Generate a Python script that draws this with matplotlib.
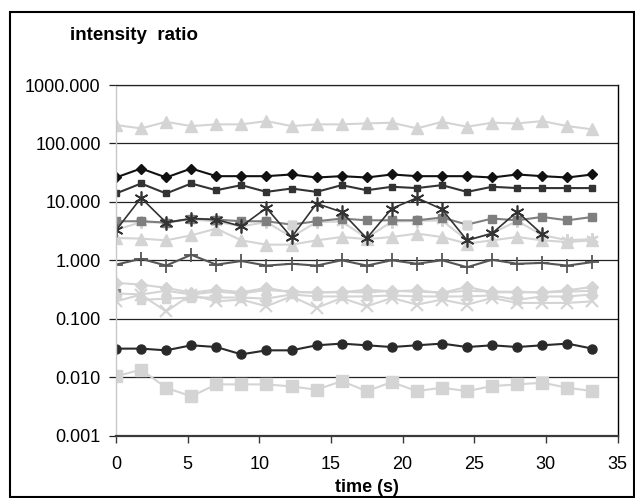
import numpy as np
import matplotlib
matplotlib.use('Agg')
import matplotlib.pyplot as plt
from matplotlib.ticker import FixedLocator, FuncFormatter
from matplotlib.patches import Rectangle

plt.rcParams['font.family'] = ['Liberation Sans', 'DejaVu Sans']

# sample times (s)
time_s = [0, 1.75, 3.5, 5.25, 7, 8.75, 10.5, 12.25, 14, 15.75,
          17.5, 19.25, 21, 22.75, 24.5, 26.25, 28, 29.75, 31.5, 33.25]

# intensity ratios per channel
tri_top = [206, 181, 234, 198, 212, 212, 241, 198, 212, 212,
           220, 226, 181, 234, 193, 226, 220, 241, 198, 174]
diamond_black = [26.1, 37.2, 26.1, 37.2, 27.5, 27.5, 27.5, 29.4, 26.1, 27.5,
                 26.1, 29.4, 27.5, 27.5, 27.5, 26.1, 29.4, 27.5, 26.1, 29.4]
square_dark = [13.9, 20.6, 13.9, 20.6, 15.8, 19.3, 14.8, 16.9, 14.8, 19.3,
               15.8, 18.1, 17.2, 19.3, 14.8, 18.1, 17.2, 17.2, 17.2, 17.2]
star_dark = [3.26, 11.7, 4.42, 5.17, 4.97, 3.81, 7.85, 2.47, 9.35, 6.71,
             2.38, 7.67, 11.7, 7.46, 2.19, 2.89, 6.76, 2.78, np.nan, np.nan]
square_mid = [4.65, 4.65, 4.42, 5.17, 4.97, 4.65, 4.65, 4.08, 4.65, 5.17,
              4.83, 4.83, 4.83, 5.38, 4.08, 5.17, 4.83, 5.51, 4.83, 5.51]
square_mid_pale = [7, 14]   # points shown with a pale marker
star_light = [3.3, 4.5, 4.4, 5.0, 4.6, 3.8, 4.5, 2.5, 4.5, 4.6,
              2.4, 4.6, 4.7, 4.8, 2.2, 2.9, 4.7, 2.7, 2.2, 2.3]
tri_mid = [2.40, 2.35, 2.19, 2.67, 3.48, 2.19, 1.85, 1.85, 2.19, 2.50,
           2.30, 2.50, 2.86, 2.50, 1.93, 2.19, 2.50, 2.19, 2.05, 2.19]
plus_dark = [0.84, 1.06, 0.81, 1.24, 0.84, 0.97, 0.81, 0.87, 0.81, 1.0,
             0.81, 1.0, 0.87, 1.0, 0.76, 1.02, 0.87, 0.90, 0.81, 0.93]
diamond_light = [0.41, 0.383, 0.336, 0.279, 0.314, 0.283, 0.336, 0.283, 0.283, 0.283,
                 0.314, 0.294, 0.306, 0.276, 0.35, 0.283, 0.283, 0.283, 0.306, 0.35]
tri_low = [0.27, 0.26, 0.30, 0.26, 0.29, 0.27, 0.31, 0.29, 0.28, 0.29,
           0.28, 0.30, 0.29, 0.28, 0.30, 0.29, 0.29, 0.28, 0.29, 0.30]
square_light = [0.28, 0.21, 0.22, 0.23, 0.23, 0.23, 0.22, 0.26, 0.24, 0.24,
                0.24, 0.25, 0.24, 0.24, 0.24, 0.25, 0.21, 0.24, 0.24, 0.26]
x_light = [0.198, 0.258, 0.133, 0.258, 0.198, 0.212, 0.163, 0.241, 0.153, 0.226,
           0.163, 0.226, 0.174, 0.212, 0.174, 0.226, 0.186, 0.186, 0.186, 0.198]
circle_black = [0.0307, 0.0307, 0.0287, 0.035, 0.0327, 0.0245, 0.0287, 0.0287, 0.035, 0.0374,
                0.035, 0.0327, 0.035, 0.0374, 0.0327, 0.035, 0.0327, 0.035, 0.0374, 0.0307]
square_bottom = [0.0103, 0.0134, 0.00658, 0.00467, 0.0075, 0.0075, 0.0075, 0.00692, 0.00608, 0.00853,
                 0.00575, 0.0082, 0.00575, 0.00658, 0.00575, 0.00701, 0.0075, 0.0080, 0.00658, 0.00575]

light = '#d4d4d4'
mid = '#7f7f7f'

fig = plt.figure(figsize=(6.35, 4.98), dpi=100)
ax = fig.add_axes([116 / 635, 1 - 435.5 / 498, 501.5 / 635, 350.5 / 498])

ax.plot(time_s, tri_top, color=light, marker='^', ms=8, lw=1.5)
ax.plot(time_s, diamond_light, color=light, marker='D', ms=6, lw=1.5)
ax.plot(time_s, tri_low, color=light, marker='^', ms=7, lw=1.5)
ax.plot(time_s[1:], square_light[1:], color=light, marker='s', ms=6, lw=1.5)
ax.plot(time_s[0], square_light[0], color=mid, marker='s', ms=6, ls='none', zorder=1.9)
ax.plot(time_s, x_light, color=light, marker='x', ms=8, mew=1.5, lw=1.5)
ax.plot(time_s, square_bottom, color=light, marker='s', ms=8, lw=1.5)
ax.plot(time_s, tri_mid, color=light, marker='^', ms=8.5, lw=1.5)
ax.plot(time_s, star_light, color=light, marker=(6, 2, 0), ms=9, mew=1.5, lw=1.5)
ax.plot(time_s, square_mid, color=mid, marker='s', ms=6, lw=1.5)
ax.plot([time_s[i] for i in square_mid_pale], [square_mid[i] for i in square_mid_pale],
        color=light, marker='s', ms=6, ls='none')
ax.plot(time_s, star_dark, color='#333333', marker=(6, 2, 0), ms=10, mew=1.2, lw=1.2)
ax.plot(time_s, square_dark, color='#333333', marker='s', ms=4.5, lw=1.5)
ax.plot(time_s, diamond_black, color='#111111', marker='D', ms=5, lw=1.5)
ax.plot(time_s, plus_dark, color='#555555', marker='+', ms=10, mew=1.3, lw=1.5)
ax.plot(time_s, circle_black, color='#2a2a2a', marker='o', ms=6.5, lw=1.5)

ax.set_yscale('log')
ax.set_ylim(0.001, 1000)
ax.set_xlim(0, 35)
ax.yaxis.set_major_locator(FixedLocator([0.001, 0.01, 0.1, 1, 10, 100, 1000]))
ax.yaxis.set_minor_locator(FixedLocator([]))
ax.yaxis.set_major_formatter(FuncFormatter(lambda v, p: '%.3f' % v))
ax.set_xticks(range(0, 36, 5))
ax.grid(axis='y', color='#222222', lw=0.9)
ax.set_axisbelow(True)

ax.spines['top'].set_color('#222222')
ax.spines['top'].set_linewidth(0.9)
ax.spines['right'].set_color('black')
ax.spines['right'].set_linewidth(1.0)
ax.spines['left'].set_color('#c8c8c8')
ax.spines['left'].set_linewidth(1.0)
ax.spines['bottom'].set_color('#3a3a3a')
ax.spines['bottom'].set_linewidth(1.6)
ax.tick_params(axis='y', direction='out', length=5, width=0.9, color='#222222',
               labelsize=13, pad=6)
ax.tick_params(axis='x', direction='out', length=5, width=1.0, color='#3a3a3a',
               labelsize=13, pad=10)

ax.set_xlabel('time (s)', fontsize=13, fontweight='bold', labelpad=4)
fig.text(70 / 635, 1 - 36 / 498, 'intensity  ratio', fontsize=13.5, fontweight='bold',
         ha='left', va='center')

# outer frame
fig.patches.append(Rectangle((10 / 635, 1 / 498), 624 / 635, 485 / 498, transform=fig.transFigure,
                             fill=False, edgecolor='black', lw=1.5))

fig.savefig('out.png', dpi=100)
